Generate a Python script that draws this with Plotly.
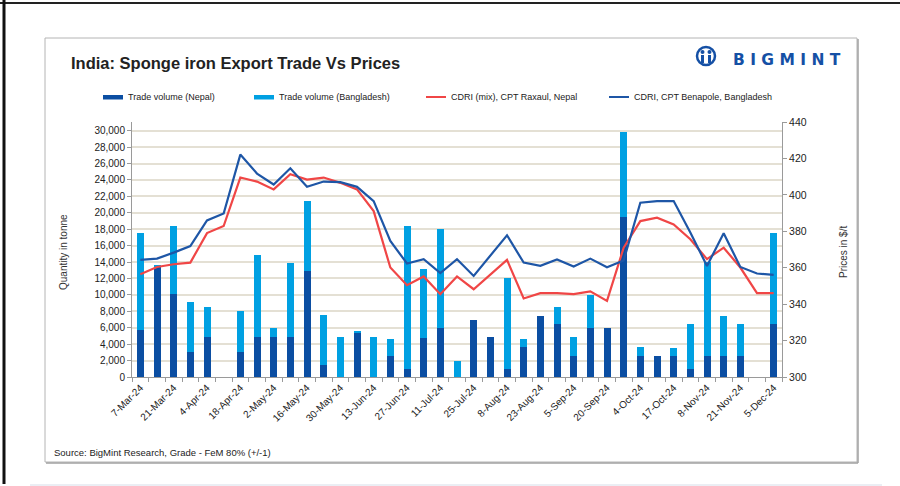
import plotly.graph_objects as go

# weekly export data, India sponge iron
dates = ['7-Mar-24', '14-Mar-24', '21-Mar-24', '28-Mar-24', '4-Apr-24', '11-Apr-24', '18-Apr-24',
         '25-Apr-24', '2-May-24', '9-May-24', '16-May-24', '23-May-24', '30-May-24', '6-Jun-24',
         '13-Jun-24', '20-Jun-24', '27-Jun-24', '4-Jul-24', '11-Jul-24', '18-Jul-24', '25-Jul-24',
         '1-Aug-24', '8-Aug-24', '16-Aug-24', '23-Aug-24', '30-Aug-24', '5-Sep-24', '12-Sep-24',
         '20-Sep-24', '27-Sep-24', '4-Oct-24', '10-Oct-24', '17-Oct-24', '25-Oct-24', '8-Nov-24',
         '14-Nov-24', '21-Nov-24', '28-Nov-24', '5-Dec-24']

vol_nepal = [5700, 13400, 10100, 3000, 4900, 0, 3000, 4900, 4900, 4900, 12900, 1500, 0, 5400,
             0, 2500, 1000, 4700, 6000, 0, 6900, 4900, 1000, 3600, 7400, 6400, 2500, 6000,
             6000, 19500, 2500, 2500, 2500, 1000, 2500, 2500, 2500, 0, 6400]

vol_bangladesh = [11900, 200, 8300, 6100, 3600, 0, 5000, 10000, 1100, 9000, 8500, 6000, 4900, 100,
                  4900, 2100, 17400, 8500, 12000, 2000, 0, 0, 11000, 1000, 0, 2100, 2400, 4000,
                  0, 10400, 1100, 0, 1000, 5400, 11500, 4900, 3900, 0, 11100]

price_raxaul = [356.4, 360.4, 361.9, 362.8, 379.0, 382.9, 409.5, 407.3, 403.0, 411.3, 408.4, 409.5,
                406.6, 403.0, 391.1, 360.1, 350.4, 355.2, 345.5, 355.2, 348.2, 356.4, 364.3, 343.1,
                346.0, 346.0, 345.5, 347.0, 341.8, 371.0, 385.6, 387.5, 383.8, 375.6, 364.7, 371.0,
                360.1, 346.0, 346.0]

price_benapole = [364.3, 365.0, 368.3, 371.9, 386.0, 389.8, 422.1, 411.7, 405.7, 414.6, 404.4, 407.3,
                  407.0, 404.4, 396.6, 374.7, 362.3, 364.7, 357.0, 364.7, 355.5, 366.5, 377.8, 362.8,
                  361.0, 364.5, 360.7, 365.0, 360.3, 364.0, 395.7, 396.6, 396.6, 379.3, 361.0, 378.9,
                  360.4, 356.8, 356.1]

# every other date gets a label, like the original
tick_text = [d if i % 2 == 0 else '' for i, d in enumerate(dates)]

DARK = '#0B4EA2'
LIGHT = '#00A0E2'
RED = '#F04646'
BLUE = '#1E56A6'
FONT = 'Liberation Sans, Arial, sans-serif'

# plot area in pixels
L, R, T, B = 132, 782, 122, 377
W, H = 900, 486


def px_x(x):
    return (x - L) / (R - L)


def px_y(y):
    return (B - y) / (B - T)


fig = go.Figure()
fig.add_trace(go.Bar(x=dates, y=vol_nepal, name='Trade volume (Nepal)', marker_color=DARK,
                     marker_line_width=0))
fig.add_trace(go.Bar(x=dates, y=vol_bangladesh, name='Trade volume (Bangladesh)', marker_color=LIGHT,
                     marker_line_width=0))
fig.add_trace(go.Scatter(x=dates, y=price_raxaul, name='CDRI (mix), CPT Raxaul, Nepal', mode='lines',
                         line=dict(color=RED, width=2.2), yaxis='y2'))
fig.add_trace(go.Scatter(x=dates, y=price_benapole, name='CDRI, CPT Benapole, Bangladesh', mode='lines',
                         line=dict(color=BLUE, width=2.2), yaxis='y2'))

fig.update_layout(
    width=W, height=H,
    margin=dict(l=L, r=W - R, t=T, b=H - B, pad=0),
    paper_bgcolor='white', plot_bgcolor='white',
    barmode='stack', bargap=0.58,
    showlegend=False,
    font=dict(family=FONT, size=10, color='#222222'),
    xaxis=dict(type='category', tickmode='array', tickvals=dates, ticktext=tick_text,
               tickangle=-45, tickson='boundaries', ticks='outside', ticklen=4, tickcolor='#9a9a9a',
               showline=True, linecolor='#9a9a9a', linewidth=1, showgrid=False,
               tickfont=dict(size=10, color='#222222'), range=[-0.5, 38.5]),
    yaxis=dict(range=[0, 31060], tickvals=list(range(0, 30001, 2000)), tickformat=',d',
               showgrid=True, gridcolor='#E4E0D4', gridwidth=1.5, zeroline=False,
               showline=True, linecolor='#9a9a9a', ticks='outside', ticklen=4, tickcolor='#9a9a9a',
               tickfont=dict(size=10, color='#222222')),
    yaxis2=dict(range=[300, 440], dtick=20, overlaying='y', side='right', showgrid=False,
                zeroline=False, showline=True, linecolor='#9a9a9a', ticks='outside', ticklen=4,
                tickcolor='#9a9a9a', tickfont=dict(size=10.5, color='#222222')),
)

annotations = [
    dict(text='<b>India: Sponge iron Export Trade Vs Prices</b>', x=px_x(69), y=px_y(63),
         xanchor='left', yanchor='middle', font=dict(size=16.5, color='#222222')),
    dict(text='Quantity in tonne', x=px_x(63), y=px_y(252), textangle=-90,
         xanchor='center', yanchor='middle', font=dict(size=10, color='#333333')),
    dict(text='Prices in $/t', x=px_x(843), y=px_y(252), textangle=-90,
         xanchor='center', yanchor='middle', font=dict(size=10, color='#333333')),
    dict(text='Source: BigMint Research, Grade - FeM 80% (+/-1)', x=px_x(52), y=px_y(452),
         xanchor='left', yanchor='middle', font=dict(size=9.5, color='#222222')),
    dict(text='<b>B I G M I N T</b>', x=px_x(731), y=px_y(60), xanchor='left', yanchor='middle',
         font=dict(family='DejaVu Sans', size=15.5, color='#1550A5')),
]

# hand-made legend row, Excel style
legend_items = [
    ('Trade volume (Nepal)', DARK, 'bar', 103),
    ('Trade volume (Bangladesh)', LIGHT, 'bar', 254),
    ('CDRI (mix), CPT Raxaul, Nepal', RED, 'line', 426),
    ('CDRI, CPT Benapole, Bangladesh', BLUE, 'line', 609),
]
shapes = []
for name, color, kind, x0 in legend_items:
    if kind == 'bar':
        shapes.append(dict(type='rect', xref='paper', yref='paper', x0=px_x(x0), x1=px_x(x0 + 20),
                           y0=px_y(99.5), y1=px_y(95), fillcolor=color, line_width=0))
    else:
        shapes.append(dict(type='line', xref='paper', yref='paper', x0=px_x(x0), x1=px_x(x0 + 20),
                           y0=px_y(97), y1=px_y(97), line=dict(color=color, width=2)))
    annotations.append(dict(text=name, x=px_x(x0 + 23), y=px_y(97), xanchor='left', yanchor='middle',
                            font=dict(size=9, color='#222222')))

# frame, page lines and logo icon
shapes += [
    dict(type='rect', xref='paper', yref='paper', x0=px_x(45), x1=px_x(857), y0=px_y(38), y1=px_y(462),
         line=dict(color='#B4B4B4', width=1)),
    dict(type='line', xref='paper', yref='paper', x0=px_x(858), x1=px_x(858), y0=px_y(39), y1=px_y(463),
         line=dict(color='#A0A0A0', width=1.5)),
    dict(type='line', xref='paper', yref='paper', x0=px_x(46), x1=px_x(858), y0=px_y(463), y1=px_y(463),
         line=dict(color='#A0A0A0', width=1.5)),
    dict(type='line', xref='paper', yref='paper', x0=px_x(0), x1=px_x(900), y0=px_y(3), y1=px_y(3),
         line=dict(color='#222222', width=2)),
    dict(type='line', xref='paper', yref='paper', x0=px_x(4), x1=px_x(4), y0=px_y(0), y1=px_y(484),
         line=dict(color='#111111', width=3)),
    dict(type='line', xref='paper', yref='paper', x0=px_x(30), x1=px_x(882), y0=px_y(485), y1=px_y(485),
         line=dict(color='#E4E8F0', width=1.5)),
    dict(type='circle', xref='paper', yref='paper', x0=px_x(697), x1=px_x(715), y0=px_y(47), y1=px_y(65),
         line=dict(color='#1550A5', width=2.5)),
    dict(type='circle', xref='paper', yref='paper', x0=px_x(700.5), x1=px_x(704.5), y0=px_y(50), y1=px_y(54),
         fillcolor='#1550A5', line_width=0),
    dict(type='circle', xref='paper', yref='paper', x0=px_x(707.5), x1=px_x(711.5), y0=px_y(50), y1=px_y(54),
         fillcolor='#1550A5', line_width=0),
    dict(type='rect', xref='paper', yref='paper', x0=px_x(701), x1=px_x(704), y0=px_y(55), y1=px_y(63),
         fillcolor='#1550A5', line_width=0),
    dict(type='rect', xref='paper', yref='paper', x0=px_x(708), x1=px_x(711), y0=px_y(55), y1=px_y(63),
         fillcolor='#1550A5', line_width=0),
]

fig.update_layout(annotations=[dict(a, xref='paper', yref='paper', showarrow=False) for a in annotations],
                  shapes=shapes)

# the page body has a default 8px margin, drop it so the figure sits at 0,0
fig.write_html("out.html", config={'displayModeBar': False},
               post_script="document.body.style.margin='0';")
